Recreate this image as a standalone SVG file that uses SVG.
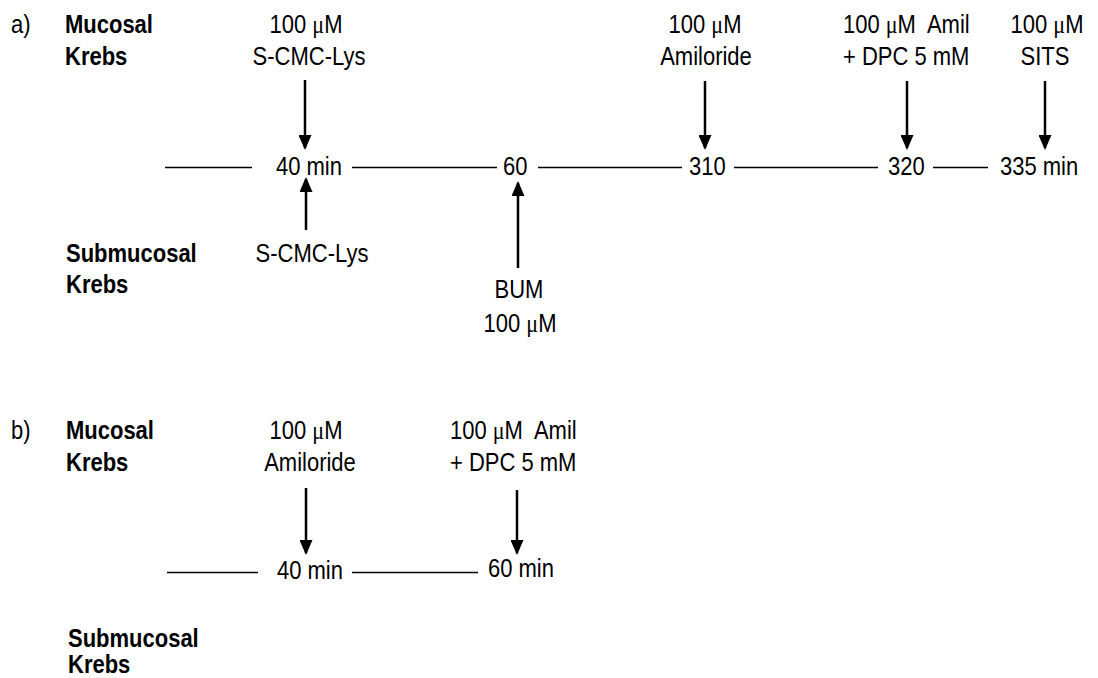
<svg xmlns="http://www.w3.org/2000/svg" width="1098" height="678" viewBox="0 0 1098 678">
<defs>
<marker id="ah" markerUnits="userSpaceOnUse" markerWidth="15" markerHeight="13" refX="13" refY="6.5" orient="auto">
<path d="M0,0 L15,6.5 L0,13 z" fill="#000"/>
</marker>
<style>
text{font-family:"Liberation Sans",Arial,sans-serif;font-size:25px;fill:#000}
.b{font-weight:bold}
.m{text-anchor:middle}
.u{font-family:"Liberation Serif","Times New Roman",serif}
.tl{stroke:#000;stroke-width:1.3;fill:none}
.ar{stroke:#000;stroke-width:2.5;fill:none;marker-end:url(#ah)}
</style>
</defs>
<rect width="1098" height="678" fill="#fff"/>

<g id="panel-a-labels">
<text transform="translate(11,33) scale(0.88,1)">a)</text>
<text class="b" transform="translate(65,33) scale(0.88,1)">Mucosal</text>
<text class="b" transform="translate(65,65) scale(0.88,1)">Krebs</text>
<text class="b" transform="translate(66,262) scale(0.88,1)">Submucosal</text>
<text class="b" transform="translate(66,293) scale(0.88,1)">Krebs</text>
</g>

<g id="a-scmc-muc">
<text class="m" transform="translate(306,33) scale(0.88,1)">100 <tspan class="u">μ</tspan>M</text>
<text class="m" transform="translate(309,65) scale(0.88,1)">S-CMC-Lys</text>
</g>
<g id="a-amil">
<text class="m" transform="translate(705,33) scale(0.88,1)">100 <tspan class="u">μ</tspan>M</text>
<text class="m" transform="translate(706,65) scale(0.88,1)">Amiloride</text>
</g>
<g id="a-amil-dpc">
<text transform="translate(843,33) scale(0.88,1)">100 <tspan class="u">μ</tspan>M&#160; Amil</text>
<text transform="translate(843,65) scale(0.88,1)">+ DPC 5 mM</text>
</g>
<g id="a-sits">
<text class="m" transform="translate(1047,33) scale(0.88,1)">100 <tspan class="u">μ</tspan>M</text>
<text class="m" transform="translate(1045,65) scale(0.88,1)">SITS</text>
</g>
<g id="a-scmc-sub">
<text class="m" transform="translate(312,262) scale(0.88,1)">S-CMC-Lys</text>
</g>
<g id="a-bum">
<text class="m" transform="translate(519,298) scale(0.88,1)">BUM</text>
<text class="m" transform="translate(520,332) scale(0.88,1)">100 <tspan class="u">μ</tspan>M</text>
</g>

<g id="a-times">
<text transform="translate(276,175) scale(0.88,1)">40 min</text>
<text transform="translate(503,175) scale(0.88,1)">60</text>
<text transform="translate(689,175) scale(0.88,1)">310</text>
<text transform="translate(888,175) scale(0.88,1)">320</text>
<text transform="translate(1000,175) scale(0.88,1)">335 min</text>
</g>

<g id="panel-b-labels">
<text transform="translate(11,439) scale(0.88,1)">b)</text>
<text class="b" transform="translate(66,439) scale(0.88,1)">Mucosal</text>
<text class="b" transform="translate(66,471) scale(0.88,1)">Krebs</text>
<text class="b" transform="translate(68,647) scale(0.88,1)">Submucosal</text>
<text class="b" transform="translate(68,673) scale(0.88,1)">Krebs</text>
</g>
<g id="b-amil">
<text class="m" transform="translate(306,439) scale(0.88,1)">100 <tspan class="u">μ</tspan>M</text>
<text class="m" transform="translate(310,471) scale(0.88,1)">Amiloride</text>
</g>
<g id="b-amil-dpc">
<text transform="translate(450,439) scale(0.88,1)">100 <tspan class="u">μ</tspan>M&#160; Amil</text>
<text transform="translate(450,471) scale(0.88,1)">+ DPC 5 mM</text>
</g>
<g id="b-times">
<text transform="translate(277,579) scale(0.88,1)">40 min</text>
<text transform="translate(488,577) scale(0.88,1)">60 min</text>
</g>

<g id="connectors">
<line class="tl" x1="165" y1="167.5" x2="252" y2="167.5"/>
<line class="tl" x1="352" y1="167.5" x2="497" y2="167.5"/>
<line class="tl" x1="538" y1="167.5" x2="682" y2="167.5"/>
<line class="tl" x1="734" y1="167.5" x2="878" y2="167.5"/>
<line class="tl" x1="933" y1="167.5" x2="988" y2="167.5"/>
<line class="ar" x1="305" y1="80" x2="305" y2="148"/>
<line class="ar" x1="705" y1="81" x2="705" y2="148"/>
<line class="ar" x1="907" y1="81" x2="907" y2="148"/>
<line class="ar" x1="1045" y1="81" x2="1045" y2="148"/>
<line class="ar" x1="306" y1="230" x2="306" y2="179"/>
<line class="ar" x1="518" y1="268" x2="518" y2="183"/>
<line class="tl" x1="167" y1="572.5" x2="258" y2="572.5"/>
<line class="tl" x1="352" y1="572.5" x2="478" y2="572.5"/>
<line class="ar" x1="306" y1="488" x2="306" y2="553"/>
<line class="ar" x1="517" y1="490" x2="517" y2="553"/>
</g>
</svg>
